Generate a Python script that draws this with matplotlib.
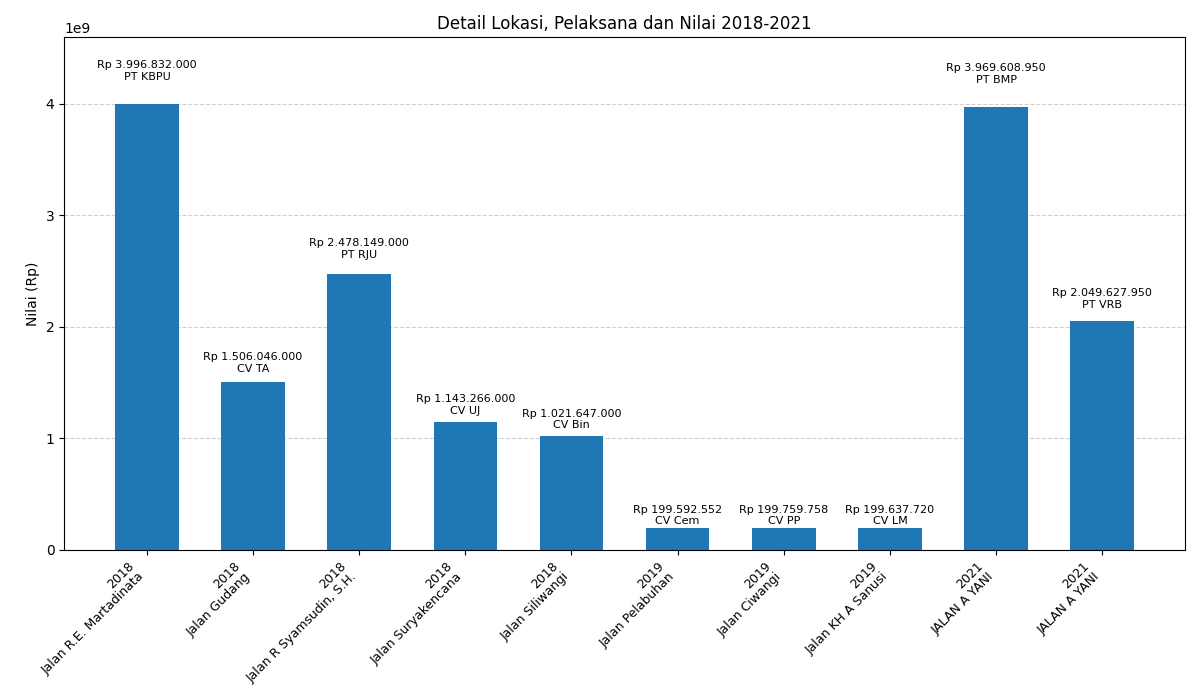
import matplotlib
matplotlib.use("Agg")
import matplotlib.pyplot as plt

# Data
years = ["2018", "2018", "2018", "2018", "2018", "2019", "2019", "2019", "2021", "2021"]
lokasi = [
    "Jalan R.E. Martadinata",
    "Jalan Gudang",
    "Jalan R Syamsudin, S.H.",
    "Jalan Suryakencana",
    "Jalan Siliwangi",
    "Jalan Pelabuhan",
    "Jalan Ciwangi",
    "Jalan KH A Sanusi",
    "JALAN A YANI",
    "JALAN A YANI",
]
pelaksana = ["PT KBPU", "CV TA", "PT RJU", "CV UJ", "CV Bin",
             "CV Cem", "CV PP", "CV LM", "PT BMP", "PT VRB"]
nilai = [3996832000, 1506046000, 2478149000, 1143266000, 1021647000,
         199592552, 199759758, 199637720, 3969608950, 2049627950]


def format_rp(val):
    """Format as Indonesian Rupiah with dot thousands separator"""
    return "Rp " + f"{val:,}".replace(",", ".")


labels = [f"{y}\n{l}" for y, l in zip(years, lokasi)]
x = list(range(len(nilai)))

fig, ax = plt.subplots(figsize=(12, 7), dpi=100)
ax.bar(x, nilai, width=0.6, color="#1f77b4", zorder=2)

for i, val in enumerate(nilai):
    ax.text(i, val * 1.05, f"{format_rp(val)}\n{pelaksana[i]}",
            ha="center", va="bottom", fontsize=8)

ax.set_ylim(0, max(nilai) * 1.15)
ax.set_xticks(x)
ax.set_xticklabels(labels, rotation=45, ha="right", fontsize=9)
ax.set_ylabel("Nilai (Rp)")
ax.set_title("Detail Lokasi, Pelaksana dan Nilai 2018-2021")
ax.grid(axis="y", linestyle="--", alpha=0.6, zorder=0)

plt.tight_layout()
plt.savefig("out.png")
